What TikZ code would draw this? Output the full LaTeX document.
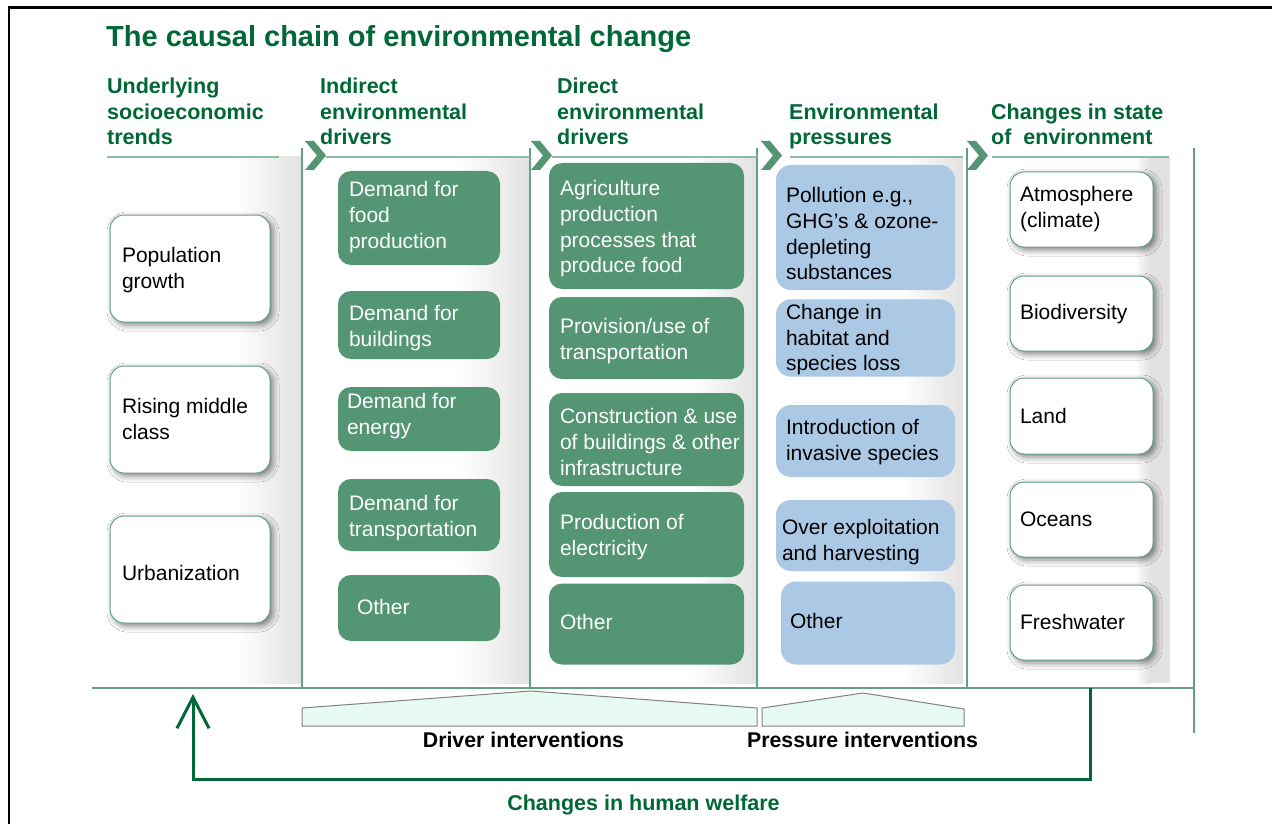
\documentclass[tikz,border=0pt]{standalone}
\usepackage{fontspec}
\setmainfont{Liberation Sans}
\usetikzlibrary{shadows.blur,arrows.meta}
\definecolor{dkgreen}{RGB}{0,104,55}
\definecolor{boxgreen}{RGB}{84,149,116}
\definecolor{boxblue}{RGB}{171,201,229}
\definecolor{linegreen}{RGB}{100,160,130}
\definecolor{ulgreen}{RGB}{140,190,160}
\definecolor{mint}{RGB}{232,251,242}
\definecolor{colgray}{RGB}{226,226,226}
\newcommand\bodyfont{\fontsize{21}{25.8}\selectfont}
\newcommand\headfont{\fontsize{21.5}{25.5}\selectfont\bfseries}
\newcommand\bt[3][0pt]{\makebox[#2][l]{\raisebox{-#1}[\height][\depth]{\begin{tabular}{@{}l@{}}#3\end{tabular}}}}
\newcommand\hdtext[1]{\begin{tabular}[t]{@{}l@{}}#1\end{tabular}}
\tikzset{
  wbox/.style={draw=linegreen, line width=1pt, fill=white, rounded corners=14pt, inner xsep=12pt, inner ysep=0pt,
    blur shadow={shadow xshift=3pt, shadow yshift=-3pt, shadow blur radius=6pt, shadow opacity=50},
    font=\bodyfont, text=black},
  gbox/.style={fill=boxgreen, rounded corners=13pt, inner xsep=11pt, inner ysep=0pt, font=\bodyfont, text=white},
  bbox/.style={fill=boxblue, rounded corners=15pt, inner xsep=10pt, inner ysep=0pt, font=\bodyfont, text=black},
  head/.style={anchor=base west, inner sep=0pt, font=\headfont, text=dkgreen},
  sepline/.style={draw=linegreen, line width=1.2pt},
  ulline/.style={draw=ulgreen, line width=2pt},
  chev/.style={fill=boxgreen},
  trap/.style={draw=black!50, fill=mint, line width=1pt},
  welfare/.style={draw=dkgreen, line width=3pt, line join=miter},
  botlabel/.style={anchor=base, inner sep=0pt, font=\fontsize{21.3}{24}\selectfont\bfseries}
}
\newcommand\chevron[1]{\fill[chev, shift={(#1,0)}] (0,141)--(9,141)--(21,155.5)--(9,170)--(0,170)--(12,155.5)--cycle;}
\begin{document}
\begin{tikzpicture}[x=1pt,y=-1pt]
\fill[white] (0,0) rectangle (1272,824);
\useasboundingbox (0,0) rectangle (1272,824);
\clip (0,0) rectangle (1272,824);
% outer frame
\draw[line width=2.5pt] (9,830)--(9,7.5)--(1280,7.5);
% title
\node[anchor=base west, inner sep=0pt, font=\fontsize{29}{34}\selectfont\bfseries, text=dkgreen] (title) at (106,46.5) {The causal chain of environmental change};
% column shading
\shade[left color=white, right color=colgray] (235,157) rectangle (301,683);
\shade[left color=white, right color=colgray] (458,157) rectangle (529,683);
\shade[left color=white, right color=colgray] (690,157) rectangle (756,683);
\shade[left color=white, right color=colgray] (900,157) rectangle (963,683);
\shade[left color=white, right color=colgray] (1135,157) rectangle (1150,683);
\fill[colgray] (1150,157) rectangle (1170,683);
% separators
\draw[sepline] (302,148)--(302,688);
\draw[sepline] (530,148)--(530,688);
\draw[sepline] (757,148)--(757,688);
\draw[sepline] (967,148)--(967,688);
\draw[sepline] (1194,148)--(1194,733);
\draw[sepline] (92,688)--(1194,688);
% header underlines
\draw[ulline] (107,157)--(279,157);
\draw[ulline] (326,157)--(530,157);
\draw[ulline] (552,157)--(757,157);
\draw[ulline] (790,157)--(963,157);
\draw[ulline] (992,157)--(1169,157);
% chevrons
\chevron{305}
\chevron{531}
\chevron{761}
\chevron{967}
% headers
\node[head] (h1) at (107,94) {\hdtext{Underlying\\socioeconomic\\trends}};
\node[head] (h2) at (320,94) {\hdtext{Indirect\\environmental\\drivers}};
\node[head] (h3) at (557,94) {\hdtext{Direct\\environmental\\drivers}};
\node[head] (h4) at (789,119.5) {\hdtext{Environmental\\pressures}};
\node[head] (h5) at (991,119.5) {\hdtext{Changes in state\\of\ \ environment}};
% column 1
\node[wbox, minimum height=107pt] (pop) at (190,268.5) {\bt[2pt]{136pt}{Population\\growth}};
\node[wbox, minimum height=107pt] (rise) at (190,419.5) {\bt[2pt]{136pt}{Rising middle\\class}};
\node[wbox, minimum height=107pt] (urb) at (190,569.5) {\bt[5.5pt]{136pt}{Urbanization}};
% column 2
\node[gbox, minimum height=94pt] (d1) at (419,218) {\bt[-0.5pt]{140pt}{Demand for\\food\\production}};
\node[gbox, minimum height=68pt] (d2) at (419,325) {\bt[3.5pt]{140pt}{Demand for\\buildings}};
\node[gbox, minimum height=64pt, inner xsep=9pt] (d3) at (419,419) {\bt[-3pt]{144pt}{Demand for\\energy}};
\node[gbox, minimum height=72pt] (d4) at (419,515) {\bt[3pt]{140pt}{Demand for\\transportation}};
\node[gbox, minimum height=66pt, inner xsep=19pt] (d5) at (419,608) {\bt[1pt]{124pt}{Other}};
% column 3
\node[gbox, minimum height=126pt] (a1) at (646.5,226) {\bt[3pt]{173pt}{Agriculture\\production\\processes that\\produce food}};
\node[gbox, minimum height=82pt] (a2) at (646.5,338) {\bt[3pt]{173pt}{Provision/use of\\transportation}};
\node[gbox, minimum height=93pt] (a3) at (646.5,439.5) {\bt[5pt]{173pt}{Construction \& use\\of buildings \& other\\infrastructure}};
\node[gbox, minimum height=85pt] (a4) at (646.5,534.5) {\bt[2.5pt]{173pt}{Production of\\electricity}};
\node[gbox, minimum height=81pt] (a5) at (646.5,624) {\bt{173pt}{Other}};
% column 4
\node[bbox, minimum height=125pt] (p1) at (865.5,227.5) {\bt[8.5pt]{159pt}{Pollution e.g.,\\GHG’s \& ozone-\\depleting\\substances}};
\node[bbox, minimum height=74pt] (p2) at (865.5,338) {\bt[2pt]{159pt}{Change in\\habitat and\\species loss}};
\node[bbox, minimum height=72pt] (p3) at (865.5,441) {\bt[1.5pt]{159pt}{Introduction of\\invasive species}};
\node[bbox, minimum height=71pt, inner xsep=6pt] (p4) at (865.5,535.5) {\bt[7pt]{167pt}{Over exploitation\\and harvesting}};
\node[bbox, minimum height=83pt, inner xsep=9pt] (p5) at (868,623) {\bt{156pt}{Other}};
% column 5
\node[wbox, minimum height=75pt, inner xsep=10pt] (s1) at (1081.5,209.5) {\bt[-0.5pt]{123pt}{Atmosphere\\(climate)}};
\node[wbox, minimum height=75pt, inner xsep=10pt] (s2) at (1081.5,313.5) {\bt[1pt]{123pt}{Biodiversity}};
\node[wbox, minimum height=76pt, inner xsep=10pt] (s3) at (1081.5,416) {\bt[2pt]{123pt}{Land}};
\node[wbox, minimum height=75pt, inner xsep=10pt] (s4) at (1081.5,519.5) {\bt[2pt]{123pt}{Oceans}};
\node[wbox, minimum height=75pt, inner xsep=10pt] (s5) at (1081.5,622.5) {\bt[2pt]{123pt}{Freshwater}};
% interventions
\draw[trap] (302,726)--(302,708)--(531,691)--(757,708)--(757,726)--cycle;
\draw[trap] (762,726)--(762,708)--(863,693)--(964,709)--(964,726)--cycle;
\node[botlabel] (drv) at (523.5,747) {Driver interventions};
\node[botlabel] (prs) at (862.5,747) {Pressure interventions};
% human welfare loop
\coordinate (wstart) at (1090,688);
\coordinate (wend) at (193,694);
\draw[welfare, -{Straight Barb[length=31pt,width=32pt]}] (wstart) -- (1090,779) -- (193,779) -- (wend);
\node[anchor=base, inner sep=0pt, font=\fontsize{21.5}{24}\selectfont\bfseries, text=dkgreen] (hw) at (643.5,810) {Changes in human welfare};
\end{tikzpicture}
\end{document}
